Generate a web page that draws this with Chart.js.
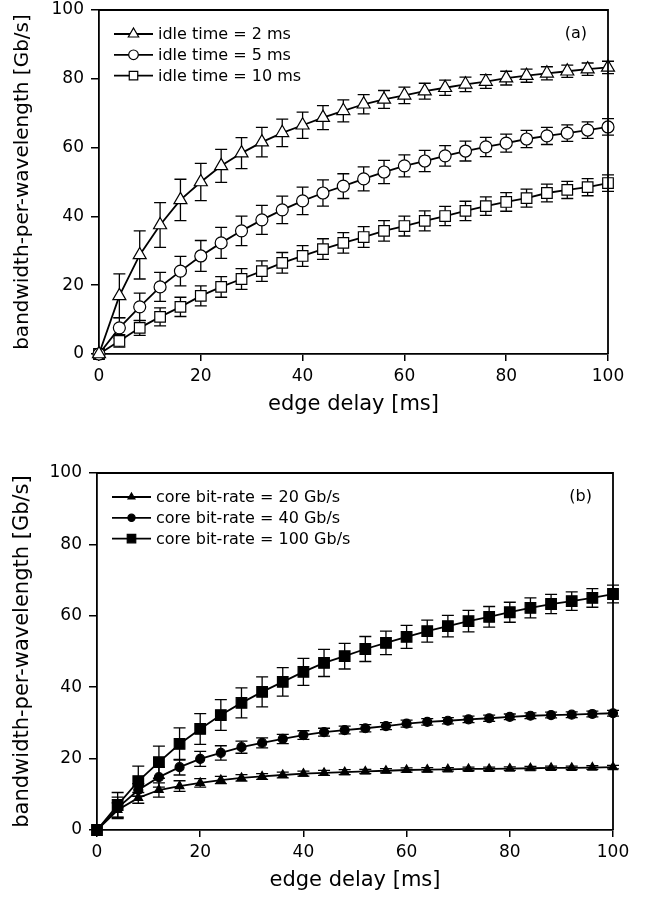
<!DOCTYPE html>
<html>
<head>
<meta charset="UTF-8">
<script src="https://cdn.jsdelivr.net/npm/chart.js@4.4.1/dist/chart.umd.min.js"></script>
<title>bandwidth-per-wavelength</title>
<style>
	body { margin: 0; background: #fff; }
	canvas { display: block; }
</style>
</head>
<body>
	<canvas id="chartA" width="646" height="450"></canvas>
	<canvas id="chartB" width="646" height="449"></canvas>
	<script>
		// edge delay [ms]
		var delays = [0, 4, 8, 12, 16, 20, 24, 28, 32, 36, 40, 44, 48, 52, 56, 60, 64, 68, 72, 76, 80, 84, 88, 92, 96, 100];

		// (a) idle time
		var idle2     = [0, 16.9, 28.8, 37.5, 44.8, 50.0, 54.7, 58.4, 61.6, 64.3, 66.5, 68.7, 70.7, 72.6, 74.0, 75.2, 76.4, 77.4, 78.4, 79.2, 80.2, 80.9, 81.6, 82.2, 82.8, 83.3];
		var idle2Err  = [0, 6.4, 7.0, 6.5, 6.0, 5.4, 4.8, 4.5, 4.3, 4.0, 3.8, 3.5, 3.2, 2.8, 2.6, 2.4, 2.3, 2.2, 2.1, 2.0, 2.0, 1.9, 1.9, 1.8, 1.8, 1.8];
		var idle5     = [0, 7.6, 13.7, 19.5, 24.1, 28.5, 32.3, 35.8, 39.0, 41.9, 44.5, 46.8, 48.8, 50.9, 52.9, 54.7, 56.1, 57.6, 59.0, 60.2, 61.3, 62.5, 63.4, 64.2, 65.1, 66.0];
		var idle5Err  = [0, 3.0, 4.0, 4.2, 4.3, 4.5, 4.5, 4.3, 4.2, 4.0, 4.0, 3.8, 3.6, 3.5, 3.4, 3.2, 3.1, 3.0, 2.9, 2.8, 2.6, 2.5, 2.5, 2.4, 2.4, 2.4];
		var idle10    = [0, 3.8, 7.6, 10.8, 13.7, 16.9, 19.5, 21.8, 24.1, 26.5, 28.5, 30.5, 32.3, 34.0, 35.8, 37.2, 38.7, 40.1, 41.6, 43.0, 44.2, 45.3, 46.8, 47.7, 48.5, 49.7];
		var idle10Err = [0, 1.8, 2.2, 2.6, 2.8, 2.9, 3.0, 3.0, 3.0, 3.0, 3.0, 3.0, 3.0, 3.0, 3.0, 2.9, 2.9, 2.8, 2.8, 2.7, 2.7, 2.6, 2.6, 2.5, 2.5, 2.4];

		// (b) core bit-rate
		var core20     = [0, 5.6, 9.0, 11.2, 12.3, 13.2, 14.0, 14.6, 15.0, 15.4, 15.8, 16.0, 16.2, 16.4, 16.6, 16.8, 16.9, 17.0, 17.1, 17.1, 17.2, 17.3, 17.4, 17.4, 17.5, 17.6];
		var core20Err  = [0, 2.0, 1.5, 2.0, 1.5, 1.2, 1.0, 0.9, 0.8, 0.8, 0.7, 0.7, 0.7, 0.6, 0.6, 0.6, 0.6, 0.5, 0.5, 0.5, 0.5, 0.5, 0.5, 0.5, 0.5, 0.5];
		var core40     = [0, 6.2, 11.2, 14.8, 17.6, 19.9, 21.6, 23.2, 24.4, 25.5, 26.6, 27.4, 28.0, 28.5, 29.1, 29.8, 30.3, 30.6, 31.0, 31.3, 31.7, 32.0, 32.2, 32.3, 32.5, 32.7];
		var core40Err  = [0, 3.0, 1.8, 2.8, 2.2, 2.1, 2.0, 1.7, 1.4, 1.3, 1.2, 1.1, 1.1, 1.0, 1.0, 1.0, 0.9, 0.9, 0.9, 0.9, 0.8, 0.8, 0.8, 0.8, 0.8, 0.8];
		var core100    = [0, 7.0, 13.7, 19.0, 24.1, 28.3, 32.2, 35.6, 38.7, 41.5, 44.3, 46.8, 48.7, 50.7, 52.4, 54.1, 55.7, 57.1, 58.5, 59.7, 61.0, 62.2, 63.3, 64.1, 65.0, 66.1];
		var core100Err = [0, 3.5, 4.2, 4.5, 4.5, 4.3, 4.3, 4.2, 4.2, 4.0, 3.8, 3.8, 3.6, 3.5, 3.3, 3.2, 3.1, 3.0, 3.0, 2.9, 2.8, 2.8, 2.7, 2.6, 2.6, 2.5];

		var FONT = "'DejaVu Sans', sans-serif";

		function points(values) {
			return delays.map(function (d, i) { return { x: d, y: values[i] }; });
		}

		function series(label, values, style, radius, fill) {
			return {
				label: label,
				data: points(values),
				showLine: true,
				borderColor: '#000',
				borderWidth: 1.8,
				tension: 0,
				clip: false,
				pointStyle: style,
				pointRadius: radius,
				pointBackgroundColor: fill,
				pointBorderColor: '#000',
				pointBorderWidth: 1.2
			};
		}

		// error bars, drawn under lines and markers
		function errorBars(errs) {
			return {
				id: 'errorBars',
				beforeDatasetsDraw: function (chart) {
					var ctx = chart.ctx, xs = chart.scales.x, ys = chart.scales.y;
					ctx.save();
					ctx.strokeStyle = '#000';
					ctx.lineWidth = 1.3;
					chart.data.datasets.forEach(function (ds, k) {
						ds.data.forEach(function (p, i) {
							var e = errs[k][i];
							if (!e) return;
							var x = xs.getPixelForValue(p.x);
							var top = ys.getPixelForValue(p.y + e), bot = ys.getPixelForValue(p.y - e);
							ctx.beginPath();
							ctx.moveTo(x, top); ctx.lineTo(x, bot);
							ctx.moveTo(x - 6, top); ctx.lineTo(x + 6, top);
							ctx.moveTo(x - 6, bot); ctx.lineTo(x + 6, bot);
							ctx.stroke();
						});
					});
					ctx.restore();
				}
			};
		}

		// top and right edge of the box
		var frame = {
			id: 'frame',
			afterDatasetsDraw: function (chart) {
				var ctx = chart.ctx, a = chart.chartArea;
				ctx.save();
				ctx.strokeStyle = '#000';
				ctx.lineWidth = 1.8;
				ctx.beginPath();
				ctx.moveTo(a.left, a.top); ctx.lineTo(a.right, a.top); ctx.lineTo(a.right, a.bottom);
				ctx.stroke();
				ctx.restore();
			}
		};

		// legend inside the plot + panel tag
		function insideLegend(tag) {
			return {
				id: 'insideLegend',
				afterDraw: function (chart) {
					var ctx = chart.ctx, a = chart.chartArea;
					ctx.save();
					ctx.font = '16px ' + FONT;
					ctx.textBaseline = 'middle';
					chart.data.datasets.forEach(function (ds, i) {
						var y = a.top + 24 + i * 20.8;
						var x0 = a.left + 15, x1 = a.left + 54;
						ctx.strokeStyle = '#000';
						ctx.lineWidth = ds.borderWidth;
						ctx.beginPath(); ctx.moveTo(x0, y); ctx.lineTo(x1, y); ctx.stroke();
						ctx.fillStyle = ds.pointBackgroundColor;
						ctx.strokeStyle = ds.pointBorderColor;
						ctx.lineWidth = ds.pointBorderWidth;
						Chart.helpers.drawPoint(ctx, { pointStyle: ds.pointStyle, radius: ds.pointRadius * 0.8, borderWidth: ds.pointBorderWidth, rotation: 0 }, (x0 + x1) / 2, y);
						ctx.fillStyle = '#000';
						ctx.textAlign = 'left';
						ctx.fillText(ds.label, a.left + 59, y + 1);
					});
					ctx.textAlign = 'right';
					ctx.fillText(tag, a.right - 21, a.top + 24);
					ctx.restore();
				}
			};
		}

		function scales(t) {
			return {
				x: {
					type: 'linear', min: 0, max: 100,
					ticks: { stepSize: 20, color: '#000', font: { family: FONT, size: 17 }, padding: 5, maxRotation: 0 },
					grid: { drawOnChartArea: false, drawTicks: true, tickLength: 7, color: '#000', lineWidth: 1.5 },
					border: { display: true, color: '#000', width: 1.8 },
					title: { display: true, text: 'edge delay [ms]', color: '#000', font: { family: FONT, size: 21 }, padding: { top: 0, bottom: t.xTitlePad } },
					afterFit: function (s) { s.height = t.xHeight; }
				},
				y: {
					type: 'linear', min: 0, max: 100,
					ticks: { stepSize: 20, color: '#000', font: { family: FONT, size: 17 }, padding: 7 },
					grid: { drawOnChartArea: false, drawTicks: true, tickLength: 8, color: '#000', lineWidth: 1.5 },
					border: { display: true, color: '#000', width: 1.8 },
					title: { display: true, text: 'bandwidth-per-wavelength [Gb/s]', color: '#000', font: { family: FONT, size: t.yTitleSize }, padding: { top: t.yTitlePad, bottom: 0 } },
					afterFit: function (s) {
						s.width = t.yWidth;
						s.paddingTop = 0;
						s.paddingBottom = 0;
					}
				}
			};
		}

		function drawChart(id, datasets, errs, tag, t) {
			return new Chart(document.getElementById(id), {
				type: 'scatter',
				data: { datasets: datasets },
				options: {
					responsive: false,
					animation: false,
					layout: { padding: { left: 0, top: t.top, right: t.right, bottom: 0 } },
					plugins: { legend: { display: false }, tooltip: { enabled: false } },
					scales: scales(t)
				},
				plugins: [errorBars(errs), frame, insideLegend(tag)]
			});
		}

		drawChart('chartA', [
			series('idle time = 2 ms', idle2, 'triangle', 7.5, '#fff'),
			series('idle time = 5 ms', idle5, 'circle', 6, '#fff'),
			series('idle time = 10 ms', idle10, 'rect', 7.5, '#fff')
		], [idle2Err, idle5Err, idle10Err], '(a)',
		{ top: 10, right: 38, yWidth: 99, xHeight: 96, xTitlePad: 33, yTitleSize: 20, yTitlePad: 11 });

		drawChart('chartB', [
			series('core bit-rate = 20 Gb/s', core20, 'triangle', 5, '#000'),
			series('core bit-rate = 40 Gb/s', core40, 'circle', 4.5, '#000'),
			series('core bit-rate = 100 Gb/s', core100, 'rect', 7.5, '#000')
		], [core20Err, core40Err, core100Err], '(b)',
		{ top: 23, right: 33, yWidth: 97, xHeight: 69, xTitlePad: 6, yTitleSize: 21, yTitlePad: 10 });
	</script>
</body>
</html>
